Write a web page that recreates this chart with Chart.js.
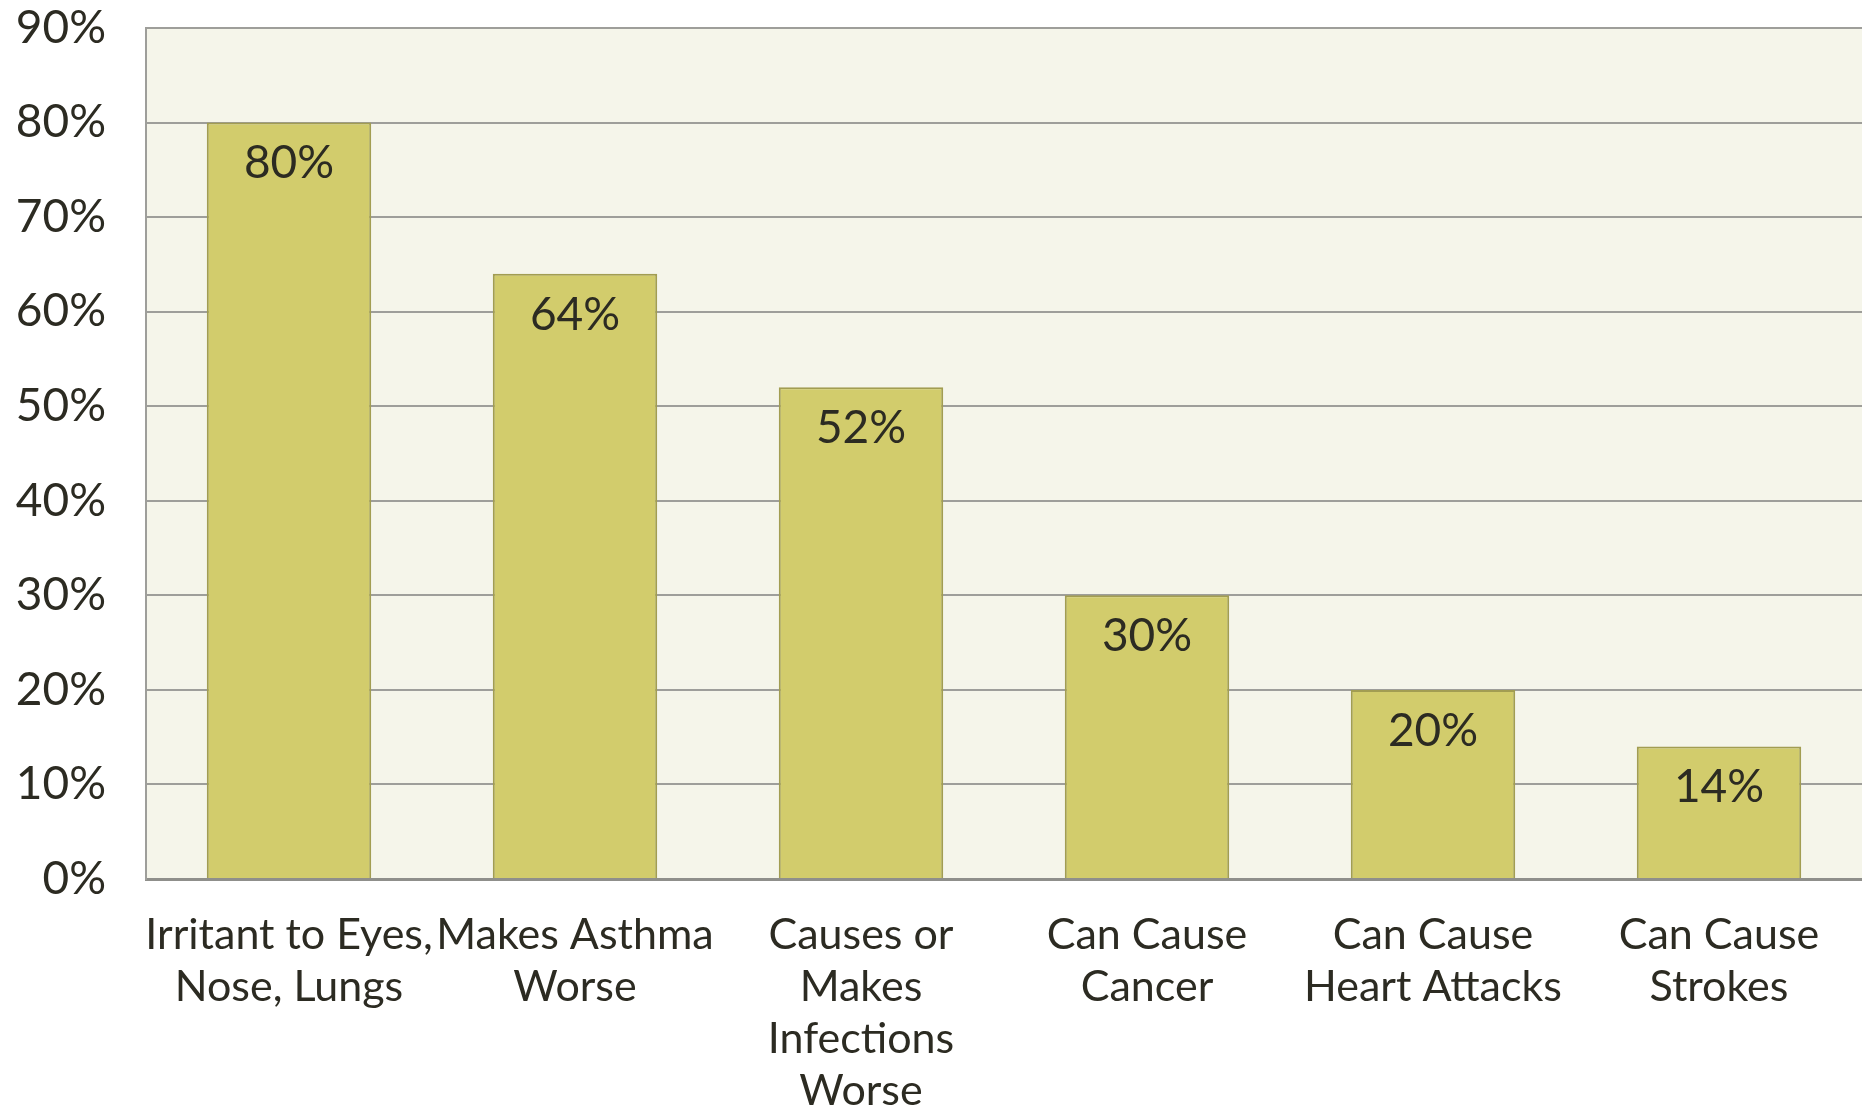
<!DOCTYPE html>
<html>
<head>
<meta charset="utf-8">
<title>Health effects</title>
<script src="https://cdn.jsdelivr.net/npm/chart.js@4.4.1/dist/chart.umd.min.js"></script>
<style>
  html, body { margin: 0; padding: 0; background: #ffffff; }
  #wrap { width: 1862px; height: 1109px; }
</style>
</head>
<body>
<div id="wrap"><canvas id="effectsChart" width="1862" height="1109"></canvas></div>
<script>
const categories = [
    ['Irritant to Eyes,', 'Nose, Lungs'],
    ['Makes Asthma', 'Worse'],
    ['Causes or', 'Makes', 'Infections', 'Worse'],
    ['Can Cause', 'Cancer'],
    ['Can Cause', 'Heart Attacks'],
    ['Can Cause', 'Strokes']
];
const percentages = [80, 64, 52, 30, 20, 14];
const yTicks = [0, 10, 20, 30, 40, 50, 60, 70, 80, 90];

const textColor = '#2c2b22';
const fontFamily = 'Lato, "Noto Sans", sans-serif';

// pale background behind the plot area only
const plotBackground = {
    id: 'plotBackground',
    beforeDraw(chart) {
        const a = chart.chartArea;
        const c = chart.ctx;
        c.save();
        c.fillStyle = '#f5f5ea';
        c.fillRect(a.left, a.top, a.right - a.left, a.bottom - a.top);
        c.restore();
    }
};

// value printed just inside the top of each bar
const barValues = {
    id: 'barValues',
    afterDatasetsDraw(chart) {
        const c = chart.ctx;
        const meta = chart.getDatasetMeta(0);
        c.save();
        c.font = '46px ' + fontFamily;
        c.fillStyle = textColor;
        c.textAlign = 'center';
        c.textBaseline = 'middle';
        meta.data.forEach((bar, i) => {
            c.fillText(percentages[i] + '%', bar.x, bar.y + 41);
        });
        c.restore();
    }
};

const ctx = document.getElementById('effectsChart');
new Chart(ctx, {
    type: 'bar',
    data: {
        labels: categories,
        datasets: [{
            data: percentages,
            backgroundColor: '#d2cc6c',
            borderColor: '#a29d52',
            borderWidth: 2,
            barPercentage: 0.575,
            categoryPercentage: 1.0
        }]
    },
    options: {
        responsive: false,
        animation: false,
        devicePixelRatio: 1,
        layout: { padding: { top: 28, right: 0, left: 0, bottom: 0 } },
        plugins: {
            legend: { display: false },
            tooltip: { enabled: false }
        },
        scales: {
            x: {
                offset: true,
                grid: { display: false, drawTicks: false },
                border: { display: true, color: '#8f8f8b', width: 3 },
                ticks: {
                    color: textColor,
                    autoSkip: false,
                    maxRotation: 0,
                    minRotation: 0,
                    padding: 30,
                    font: { family: fontFamily, size: 43, lineHeight: 1.21 }
                },
                afterFit: scale => {
                    scale.height = 230;
                    scale.paddingLeft = 0;
                    scale.paddingRight = 0;
                }
            },
            y: {
                min: 0,
                max: 90,
                afterBuildTicks: scale => {
                    scale.ticks = yTicks.map(v => ({ value: v }));
                },
                grid: { color: '#9e9e9a', lineWidth: 2, drawTicks: false },
                border: { display: true, color: '#9e9e9a', width: 2 },
                ticks: {
                    color: textColor,
                    padding: 40,
                    font: { family: fontFamily, size: 46 },
                    callback: v => v + '%'
                },
                afterFit: scale => {
                    scale.width = 146;
                    scale.paddingTop = 0;
                    scale.paddingBottom = 0;
                }
            }
        }
    },
    plugins: [plotBackground, barValues]
});
</script>
</body>
</html>
